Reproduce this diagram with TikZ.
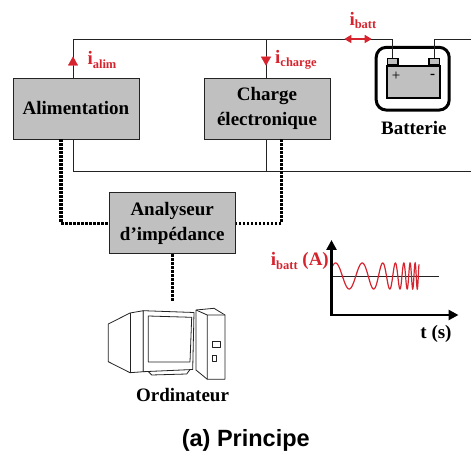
\documentclass[tikz,border=0pt]{standalone}
\usepackage{fontspec}
\setmainfont{Liberation Serif}
\newfontfamily\sansbold{Liberation Sans}
\usetikzlibrary{arrows.meta,positioning}
\definecolor{gris}{RGB}{192,192,192}
\definecolor{trait}{RGB}{35,35,35}
\definecolor{rouge}{RGB}{214,36,46}
\newcommand{\courant}[1]{i\raisebox{-3.5pt}{\fontsize{12.5}{12.5}\selectfont #1}}
\tikzset{
	bloc/.style={draw=trait,fill=gris,line width=0.9pt,minimum width=126pt,
		minimum height=61pt,inner sep=0pt,align=center,
		font=\bfseries\fontsize{19}{25}\selectfont},
	fil/.style={draw=trait,line width=0.9pt},
	liaison/.style={line width=3.2pt,dash pattern=on 2.4pt off 1.6pt},
	texte/.style={font=\bfseries\fontsize{19}{19}\selectfont,inner sep=0pt},
	fleche/.style={rouge,-{Triangle[width=10pt,length=9pt]}},
	pc/.style={draw=trait,fill=white,line width=0.8pt,line join=round}
}
\begin{document}
\begin{tikzpicture}[x=1pt,y=-1pt]
	\useasboundingbox (0,0) rectangle (471,454);
	% blocs
	\node[bloc] (alim) at (76,108.5) {Alimentation};
	\node[bloc] (charge) at (267,108.5) {Charge\\électronique};
	\node[bloc] (analyseur) at (172.2,223.2) {Analyseur\\d’impédance};
	% batterie
	\node[draw=black,line width=3pt,rounded corners=10pt,minimum width=73pt,
		minimum height=62.7pt] (batt) at (412.7,78.7) {};
	\node[draw=black,fill=gris,line width=1.7pt,minimum width=53.3pt,
		minimum height=32.6pt,inner sep=0pt] (bac) at (413.3,82) {};
	\foreach \n/\x in {plus/392.8,moins/434.2}
		\node[draw=black,fill=gris,line width=1.4pt,minimum width=10.5pt,
		minimum height=6.7pt,inner sep=0pt,anchor=south] (\n) at (\x,65.7) {};
	\node[font=\fontsize{15}{15}\selectfont] (sp) at (396,76.7) {+};
	\node[font=\bfseries\fontsize{15}{15}\selectfont] (sm) at (432.7,76.7) {-};
	\node[texte,anchor=base] (nbatt) at (413.8,135) {Batterie};
	% circuit
	\coordinate (hg) at (73,39);
	\coordinate (bg) at (73,171);
	\coordinate (jc) at (266,39);
	\coordinate (hd) at (471,39);
	\coordinate (bd) at (471,171);
	\draw[fil] (alim.north -| hg) -- (hg) -- (plus.north |- hg) -- (plus.north);
	\draw[fil] (moins.north) -- (moins.north |- hd) -- (hd);
	\draw[fil] (alim.south -| bg) -- (bg) -- (bd);
	\draw[fil] (charge.north -| jc) -- (jc);
	\draw[fil] (charge.south -| jc) -- (jc |- bg);
	% courants
	\draw[fleche] (73,65.5) -- (73,56.5);
	\draw[fleche] (266,56) -- (266,65.7);
	\draw[rouge,line width=1.6pt,{Triangle[width=8pt,length=7pt]}-{Triangle[width=8pt,length=7pt]}]
		(344.3,39) -- (371.7,39);
	\node[texte,rouge,anchor=base west] (ialim) at (87.3,65) {\courant{alim}};
	\node[texte,rouge,anchor=base west] (icharge) at (275,63.5) {\courant{charge}};
	\node[texte,rouge,anchor=base west] (ibatt) at (349.3,25.5) {\courant{batt}};
	% liaisons
	\coordinate (da) at (61,223.2);
	\coordinate (dc) at (281.7,223.2);
	\coordinate (pc) at (172.2,302);
	\draw[liaison] (alim.south -| da) -- (da) -- (analyseur.west);
	\draw[liaison] (charge.south -| dc) -- (dc) -- (analyseur.east);
	\draw[liaison] (analyseur.south) -- (pc);
	% ordinateur
	\filldraw[pc] (108.3,324) -- (130,313) -- (143.3,310.7) -- (143.3,371.7)
		-- (130,372.7) -- (108.3,361.7) -- cycle;
	\draw[pc] (130,313) -- (130,372.7);
	\filldraw[pc] (148.3,371.5) -- (151.7,375) -- (186.7,374) -- (190,369.5);
	\filldraw[pc] (143.3,310.7) -- (194,312.5) -- (192.7,369.5) -- (143.3,371.7) -- cycle;
	\draw[pc] (148.3,316) -- (191.7,317.3) -- (190,362) -- (148.3,362) -- cycle;
	\filldraw[pc] (196,310) -- (214,308.3) -- (225,315) -- (225,379.3) -- (207.3,379.3)
		-- (196,370) -- cycle;
	\draw[pc] (196,310) -- (207.3,315) -- (225,315) (207.3,315) -- (207.3,379.3);
	\draw[pc] (212.7,341.7) rectangle (220.7,347.3) (212.7,355) rectangle (216.7,361);
	\node[texte,anchor=base] (nord) at (182.5,401) {Ordinateur};
	% chronogramme
	\coordinate (O) at (331.5,315);
	\coordinate (ymax) at (331.5,240);
	\coordinate (xmax) at (458.5,315);
	\coordinate (zero) at (331.5,276);
	\coordinate (fin) at (439,276);
	\draw[trait,line width=0.8pt] (zero) -- (fin);
	\draw[rouge,line width=1.2pt,domain=0:87.5,samples=500]
		plot ({331.5+\x},{276-13*sin(deg(0.63+0.2309*\x+21*(\x/85)^5))});
	\draw[line width=2.6pt,{Triangle[width=10pt,length=10pt]}-{Triangle[width=10pt,length=10pt]}]
		(ymax) -- (O) -- (xmax);
	\node[texte,rouge,anchor=base east] (ylab) at (329,266) {\courant{batt} (A)};
	\node[texte,anchor=base] (xlab) at (436,338.3) {t (s)};
	% legende
	\node[font=\sansbold\bfseries\fontsize{23.5}{23.5}\selectfont,anchor=base]
		(titre) at (245.8,446.7) {(a) Principe};
\end{tikzpicture}
\end{document}
